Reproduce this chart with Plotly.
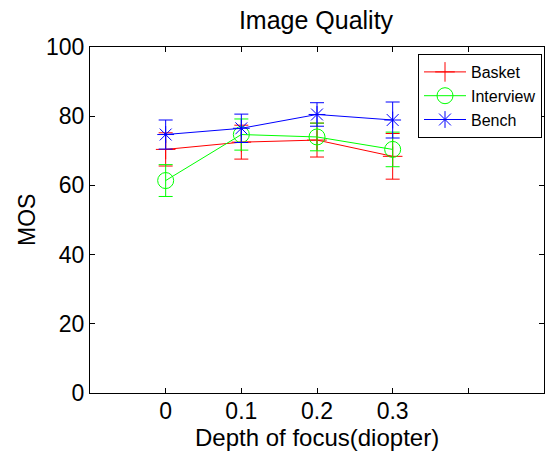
import plotly.graph_objects as go

depth = [0, 0.1, 0.2, 0.3]
basket = [70.4, 72.5, 73.1, 68.4]
basket_err = [4.8, 4.9, 4.9, 6.6]
interview = [61.4, 74.7, 74.0, 70.4]
interview_err = [4.6, 4.5, 4.0, 5.0]
bench = [74.7, 76.5, 80.5, 78.9]
bench_err = [4.2, 4.1, 3.4, 5.2]

x_tickvals = [-0.1, 0, 0.1, 0.2, 0.3, 0.4, 0.5]
x_ticktext = ["", "0", "0.1", "0.2", "0.3", "", ""]
y_tickvals = [0, 20, 40, 60, 80, 100]

FONT = "Liberation Sans, Arial, sans-serif"

series = [
    ("Basket", basket, basket_err, "#FF0000", "cross-thin-open", 14),
    ("Interview", interview, interview_err, "#00FF00", "circle-open", 16),
    ("Bench", bench, bench_err, "#0000FF", "asterisk-open", 14),
]

fig = go.Figure()
for name, vals, err, col, sym, sz in series:
    fig.add_trace(go.Scatter(
        x=depth, y=vals, name=name, mode="lines+markers",
        line=dict(color=col, width=1),
        marker=dict(symbol=sym, size=sz, color=col, line=dict(color=col, width=1)),
        error_y=dict(type="data", array=err, visible=True, color=col, thickness=1, width=7),
    ))

W, H = 546, 452
L, R, T, B = 90, 2, 47, 59
PW, PH = W - L - R, H - T - B

def sx(px):  # screen x -> paper x
    return (px - L) / PW

def sy(py):  # screen y -> paper y
    return (H - B - py) / PH

fig.update_layout(
    width=W, height=H,
    margin=dict(l=L, r=R, t=T, b=B, autoexpand=False),
    paper_bgcolor="white", plot_bgcolor="white",
    font=dict(family=FONT, color="black", size=22),
    title=dict(text="Image Quality", x=316 / W, xanchor="center", xref="container",
               y=1 - 20 / H, yanchor="middle", yref="container",
               font=dict(size=25, family=FONT, color="black")),
    showlegend=True,
    legend=dict(x=sx(542), xanchor="right", y=sy(54), yanchor="top",
                bgcolor="white", bordercolor="black", borderwidth=1,
                font=dict(size=16, family=FONT), itemwidth=42,
                tracegroupgap=0),
    annotations=[
        dict(text="Depth of focus(diopter)", xref="paper", yref="paper",
             x=0.5, y=sy(437.5), xanchor="center", yanchor="middle",
             showarrow=False, font=dict(size=24, family=FONT, color="black")),
        dict(text="MOS", xref="paper", yref="paper", textangle=-90,
             x=sx(27), y=0.5, xanchor="center", yanchor="middle",
             showarrow=False, font=dict(size=23, family=FONT, color="black")),
    ],
)
fig.update_xaxes(
    range=[-0.1, 0.5], tickvals=x_tickvals, ticktext=x_ticktext, automargin=False,
    showgrid=False, zeroline=False, showline=True, linecolor="black", linewidth=1,
    mirror="ticks", ticks="inside", ticklen=5, tickcolor="black",
    tickfont=dict(size=23, family=FONT), ticklabelstandoff=-3,
)
fig.update_yaxes(
    range=[0, 100], tickvals=y_tickvals, automargin=False,
    showgrid=False, zeroline=False, showline=True, linecolor="black", linewidth=1,
    mirror="ticks", ticks="inside", ticklen=5, tickcolor="black",
    tickfont=dict(size=23, family=FONT),
)
fig.write_html("out.html",
               config={"displayModeBar": False},
               post_script="document.body.style.margin='0';document.body.style.overflow='hidden';")
